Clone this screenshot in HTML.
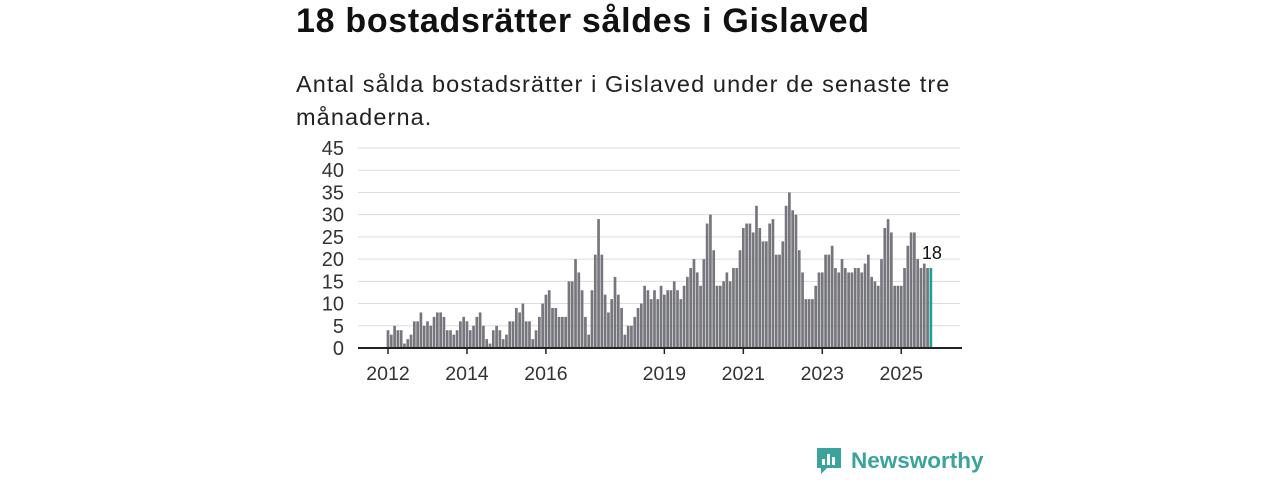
<!DOCTYPE html>
<html><head><meta charset="utf-8"><style>
body{margin:0;width:1280px;height:480px;background:#fff;font-family:"Liberation Sans",sans-serif;overflow:hidden;position:relative}
.t{position:absolute;left:296px;top:2px;font-size:34px;font-weight:bold;color:#111;letter-spacing:0.7px}
.s{position:absolute;left:296px;top:68px;font-size:23.5px;line-height:33px;color:#222;width:680px;letter-spacing:1.1px}
</style></head><body>
<div class="t">18 bostadsrätter såldes i Gislaved</div>
<div class="s">Antal sålda bostadsrätter i Gislaved under de senaste tre månaderna.</div>
<svg id="c" width="1280" height="480" style="position:absolute;left:0;top:0"></svg>
<script>
const values=[4,3,5,4,4,1,2,3,6,6,8,5, 6,5,7,8,8,7,4,4,3,4,6,7, 6,4,5,7,8,5,2,1,4,5,4,2, 3,6,6,9,8,10,6,6,2,4,7,10,
12,13,9,9,7,7,7,15,15,20,17,13, 7,3,13,21,29,21,12,8,11,16,12,9, 3,5,5,7,9,10,14,13,11,13,11,14,
12,13,13,15,13,11,14,16,18,20,17,14, 20,28,30,22,14,14,15,17,15,18,18,22, 27,28,28,26,32,27,24,24,28,29,21,21,
24,32,35,31,30,22,17,11,11,11,14,17, 17,21,21,23,18,17,20,18,17,17,18,18, 17,19,21,16,15,14,20,27,29,26,14,14,
14,18,23,26,26,20,18,19,18,18];
const yTicks=[0,5,10,15,20,25,30,35,40,45];
const xTickYears=[2012,2014,2016,2019,2021,2023,2025];
const startYear=2012;
const svg=document.getElementById('c');const NS='http://www.w3.org/2000/svg';
const x0=388,step=3.29,yb=348,ppu=200/45;
const X=i=>x0+i*step, Y=v=>yb-v*ppu;
function el(t,a,p){const e=document.createElementNS(NS,t);for(const k in a)e.setAttribute(k,a[k]);(p||svg).appendChild(e);return e;}
yTicks.forEach(v=>{
 if(v>0){const g=el('line',{x1:358,x2:960,y1:Y(v),y2:Y(v),stroke:'#dcdcdc','stroke-width':1});
 
 }
 const t=el('text',{x:344,y:Y(v)+7,'text-anchor':'end','font-size':20,fill:'#333','font-family':'Liberation Sans'});t.textContent=v;
 
 
});
values.forEach((v,i)=>{
 const last=i===values.length-1;
 const r=el('rect',{x:X(i)-1.35,y:Y(v),width:2.7,height:v*ppu,fill:last?'#1aa19a':'#76767d'});
 
 
});
const ax=el('line',{x1:358,x2:962,y1:yb,y2:yb,stroke:'#222','stroke-width':2});


xTickYears.forEach(yr=>{
 const xi=X((yr-startYear)*12);
 const tk=el('line',{x1:xi,x2:xi,y1:yb,y2:yb+6,stroke:'#222','stroke-width':1.5});
 
 
 const t=el('text',{x:xi,y:yb+32,'text-anchor':'middle','font-size':19.5,fill:'#333','font-family':'Liberation Sans'});t.textContent=yr;
 
 
});
const li=values.length-1;
const lb=el('text',{x:X(li)+1,y:Y(values[li])-9,'text-anchor':'middle','font-size':18,fill:'#111',stroke:'#fff','stroke-width':4,'paint-order':'stroke','font-family':'Liberation Sans'});lb.textContent=values[li];


</script>
<div style="position:absolute;left:815px;top:446px;display:flex;align-items:center">
<svg width="28" height="30" viewBox="0 0 28 30"><path d="M2 2h24v20h-14l-6 6v-6h-4z" fill="#3aa39c"/><rect x="7" y="13" width="3" height="6" fill="#fff"/><rect x="12" y="8" width="3" height="11" fill="#fff"/><rect x="17" y="11" width="3" height="8" fill="#fff"/></svg>
<span style="font-size:22.5px;font-weight:bold;color:#3aa39c;margin-left:8px">Newsworthy</span></div>
</body></html>
